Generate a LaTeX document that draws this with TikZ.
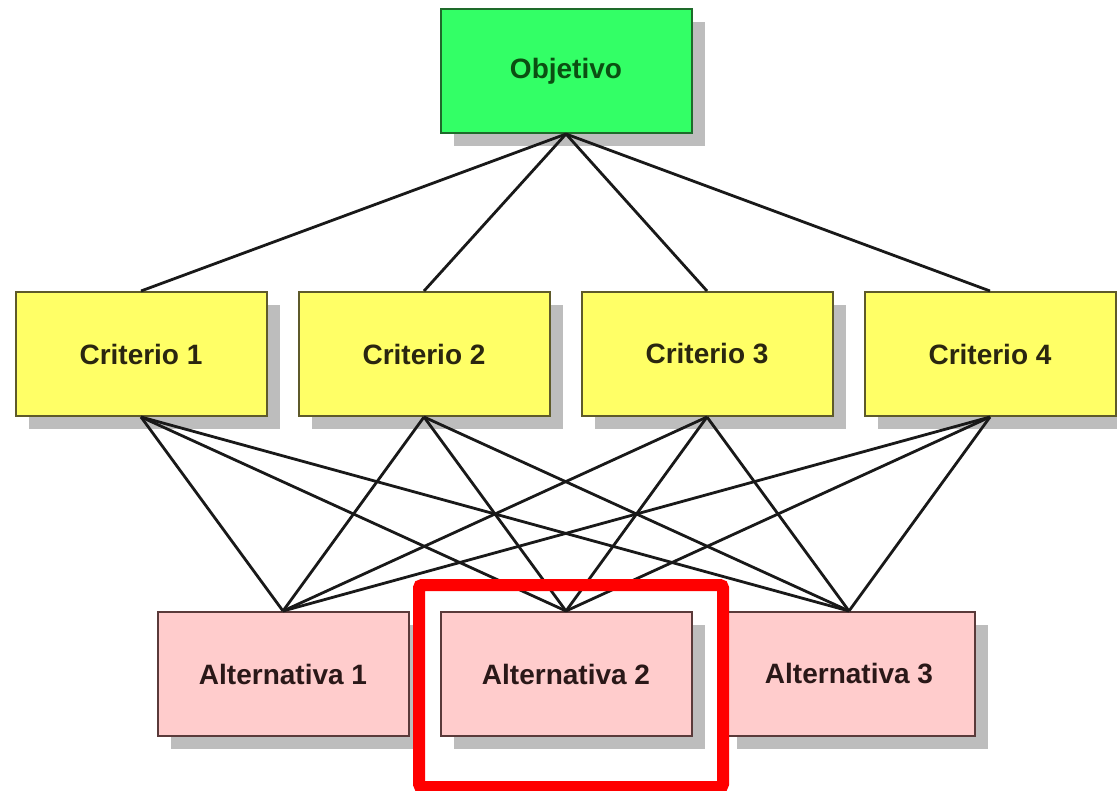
\documentclass[tikz,border=0pt]{standalone}
\usepackage{fontspec}
\setmainfont{Liberation Sans}
\usetikzlibrary{shadows}
\definecolor{objfill}{HTML}{33FF66}
\definecolor{objdraw}{HTML}{1E6B2A}
\definecolor{objtext}{HTML}{0B4F12}
\definecolor{crifill}{HTML}{FFFF66}
\definecolor{cridraw}{HTML}{5E5A2A}
\definecolor{critext}{HTML}{2A2610}
\definecolor{altfill}{HTML}{FFCCCC}
\definecolor{altdraw}{HTML}{5A3A3A}
\definecolor{alttext}{HTML}{2A1818}
\definecolor{shadowgray}{HTML}{BDBDBD}
\definecolor{hlred}{HTML}{FF0000}
\tikzset{
  box/.style={rectangle, minimum width=251pt, minimum height=124pt, line width=2pt,
    font=\fontsize{28}{34}\selectfont\bfseries, inner sep=0pt,
    general shadow={fill=shadowgray, shadow xshift=13pt, shadow yshift=-13pt}},
  objbox/.style={box, fill=objfill, draw=objdraw, text=objtext},
  cribox/.style={box, fill=crifill, draw=cridraw, text=critext},
  altbox/.style={box, fill=altfill, draw=altdraw, text=alttext},
  link/.style={line width=2.8pt, black!90}
}
\begin{document}
\begin{tikzpicture}[x=1pt,y=-1pt]
\useasboundingbox (0,0) rectangle (1117,791);
\fill[white] (0,0) rectangle (1117,791);
\node[objbox] (obj) at (566,71) {Objetivo};
\node[cribox] (c1) at (141,354) {Criterio 1};
\node[cribox] (c2) at (424,354) {Criterio 2};
\node[cribox] (c3) at (707,354) {Criterio 3};
\node[cribox] (c4) at (990,354) {Criterio 4};
\node[altbox] (a1) at (283,674) {Alternativa 1};
\node[altbox] (a2) at (566,674) {Alternativa 2};
\node[altbox] (a3) at (849,674) {Alternativa 3};
\foreach \c in {c1,c2,c3,c4}{
  \draw[link] (obj.south) -- (\c.north);
  \foreach \a in {a1,a2,a3}{
    \draw[link] (\c.south) -- (\a.north);
  }
}
\draw[hlred, line width=12pt, rounded corners=3pt] (419,585) rectangle (723,787);
\end{tikzpicture}
\end{document}
